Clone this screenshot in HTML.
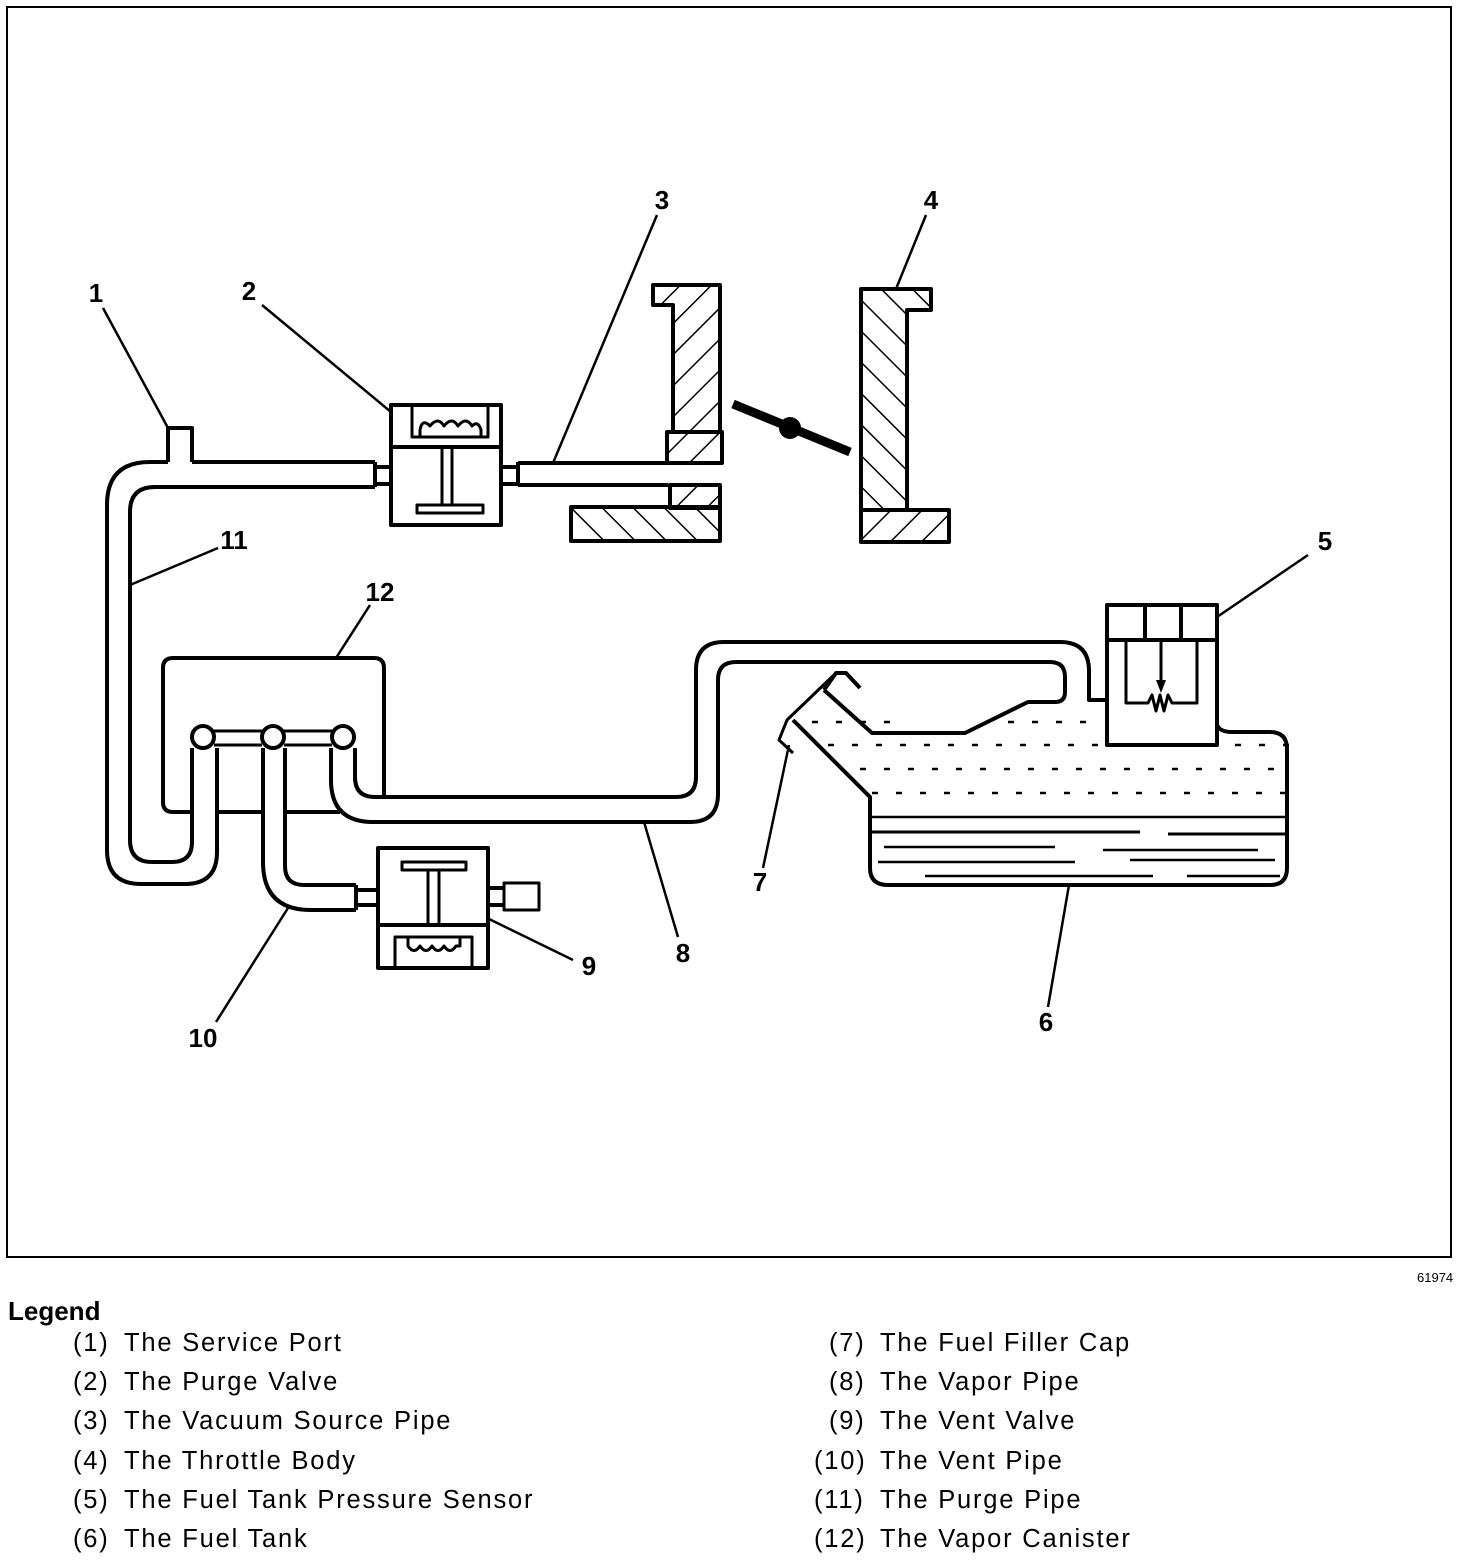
<!DOCTYPE html>
<html><head><meta charset="utf-8"><style>
html,body{margin:0;padding:0;background:#fff;}
svg{display:block;}
text{font-family:"Liberation Sans",Arial,sans-serif;fill:#000;}
.n{font-size:26px;font-weight:bold;}
.lg{font-size:25.5px;letter-spacing:1.8px;}
</style></head><body>
<svg width="1472" height="1560" viewBox="0 0 1472 1560" xmlns="http://www.w3.org/2000/svg">
<defs>
<pattern id="hf" patternUnits="userSpaceOnUse" width="22" height="22" patternTransform="rotate(45)">
<line x1="0" y1="0" x2="0" y2="22" stroke="#000" stroke-width="3"/></pattern>
<pattern id="hb" patternUnits="userSpaceOnUse" width="22" height="22" patternTransform="rotate(-45)">
<line x1="0" y1="0" x2="0" y2="22" stroke="#000" stroke-width="3"/></pattern>
</defs>
<rect x="7" y="7" width="1444" height="1250" fill="none" stroke="#000" stroke-width="2"/>

<g fill="none" stroke="#000" stroke-width="4" stroke-linejoin="round">
<path d="M168,462 L150,462 Q107,462 107,505 L107,850 Q107,884 141,884 L185,884 Q217,884 217,852 L217,748"/>
<path d="M192,462 L375,462 M168,462 L168,428 L192,428 L192,462"/>
<path d="M375,487 L155,487 Q130,487 130,512 L130,840 Q130,862 152,862 L172,862 Q192,862 192,842 L192,748"/>
<path d="M375,462 L375,487 M375,467 L391,467 M375,484 L391,484"/>
<rect x="391" y="405" width="110" height="120"/>
<line x1="391" y1="447" x2="501" y2="447"/>
<path d="M412,407 L412,437 L488,437 L488,407" stroke-width="3"/>
<path d="M420,437 L420,430 Q422,418 430,426 Q438,416 444,426 Q452,416 458,426 Q466,416 472,426 Q478,420 481,430 L481,437" stroke-width="3"/>
<rect x="442" y="447" width="10" height="58" stroke-width="3"/>
<rect x="417" y="505" width="66" height="8" stroke-width="3"/>
<path d="M501,467 L518,467 M501,484 L518,484 M518,462 L518,486"/>
<path d="M518,463 L668,463 M518,485 L668,485"/>
<path d="M192,812 L173,812 Q163,812 163,802 L163,668 Q163,658 173,658 L374,658 Q384,658 384,668 L384,797"/>
<path d="M217,812 L263,812 M285,812 L340,812"/>
<circle cx="203" cy="737" r="11"/><circle cx="273" cy="737" r="11"/><circle cx="343" cy="737" r="11"/>
<path d="M214,731 L262,731 M284,731 L332,731 M214,745 L262,745 M284,745 L332,745" stroke-width="3"/>
<path d="M331,748 L331,780 Q331,822 373,822 L690,822 Q718,822 718,794 L718,680 Q718,662 736,662 L1050,662 Q1065,662 1065,677 L1065,692 Q1065,702 1055,702 L1028,702 L965,733 L872,733 L824,690"/>
<path d="M355,748 L355,777 Q355,797 375,797 L676,797 Q696,797 696,777 L696,670 Q696,642 724,642 L1060,642 Q1089,642 1089,671 L1089,700 L1107,700"/>
<path d="M263,748 L263,862 Q263,910 311,910 L356,910"/>
<path d="M285,748 L285,866 Q285,885 304,885 L356,885"/>
<path d="M356,885 L356,910 M356,890 L378,890 M356,905 L378,905"/>
<rect x="378" y="848" width="110" height="120"/>
<line x1="378" y1="925" x2="488" y2="925"/>
<rect x="402" y="862" width="64" height="8" stroke-width="3"/>
<rect x="428" y="870" width="11" height="55" stroke-width="3"/>
<path d="M395,967 L395,937 L472,937 L472,967" stroke-width="3"/>
<path d="M408,937 L408,946 Q414,955 420,946 Q426,955 432,946 Q438,955 444,946 Q450,955 456,946 L460,946 L460,937" stroke-width="3"/>
<path d="M488,888 L504,888 M488,905 L504,905"/>
<rect x="504" y="883" width="35" height="27" stroke-width="3"/>
<path d="M1217,725 Q1220,732 1232,732 L1270,732 Q1287,732 1287,749 L1287,868 Q1287,885 1270,885 L888,885 Q870,885 870,868 L870,797 L793,720"/>
<path d="M824,690 L836,673 L846,673 L860,688"/>
<path d="M836,673 L787,720 L779,740 L793,753" stroke-width="3"/>
<line x1="870" y1="817" x2="1287" y2="817" stroke-width="2.5"/>
<path d="M870,832 L1140,832 M1168,834 L1287,834" stroke-width="3"/>
<path d="M884,847 L1055,847 M1103,850 L1258,850 M878,862 L1075,862 M1130,860 L1275,860 M925,876 L1153,876 M1187,876 L1280,876" stroke-width="2.5"/>
<rect x="1107" y="605" width="110" height="140"/>
<line x1="1107" y1="640" x2="1217" y2="640"/>
<line x1="1145" y1="605" x2="1145" y2="640"/><line x1="1181" y1="605" x2="1181" y2="640"/>
<path d="M1126,640 L1126,703 L1148,703 L1152,695 L1156,711 L1160,695 L1164,711 L1168,695 L1172,703 L1197,703 L1197,640" stroke-width="3"/>
<line x1="1161" y1="640" x2="1161" y2="682" stroke-width="3"/>
</g>
<path d="M1156,680 L1166,680 L1161,693 Z" fill="#000"/>
<g stroke="#000" stroke-width="2.5" stroke-dasharray="6 18">
<line x1="812" y1="722" x2="900" y2="722"/>
<line x1="1008" y1="722" x2="1100" y2="722"/>
<line x1="828" y1="745" x2="1100" y2="745"/>
<line x1="1235" y1="745" x2="1290" y2="745"/>
<line x1="860" y1="769" x2="1290" y2="769"/>
<line x1="872" y1="793" x2="1290" y2="793"/>
</g>
<g stroke="#000" stroke-width="4" stroke-linejoin="round">
<path d="M653,285 L720,285 L720,432 L673,432 L673,305 L653,305 Z" fill="url(#hf)"/>
<rect x="667" y="432" width="55" height="31" fill="url(#hf)"/>
<rect x="670" y="485" width="50" height="23" fill="url(#hf)"/>
<rect x="571" y="507" width="149" height="34" fill="url(#hb)"/>
<path d="M861,289 L931,289 L931,310 L907,310 L907,510 L861,510 Z" fill="url(#hb)"/>
<rect x="861" y="510" width="88" height="32" fill="url(#hf)"/>
</g>
<line x1="733" y1="404" x2="850" y2="452" stroke="#000" stroke-width="9"/>
<circle cx="790" cy="428" r="11" fill="#000"/>
<g stroke="#000" stroke-width="2.5">
<line x1="103" y1="308" x2="168" y2="428"/>
<line x1="262" y1="305" x2="391" y2="412"/>
<line x1="657" y1="215" x2="553" y2="463"/>
<line x1="926" y1="215" x2="896" y2="289"/>
<line x1="1308" y1="555" x2="1217" y2="617"/>
<line x1="1069" y1="885" x2="1048" y2="1007"/>
<line x1="789" y1="745" x2="763" y2="868"/>
<line x1="644" y1="822" x2="678" y2="937"/>
<line x1="487" y1="918" x2="573" y2="960"/>
<line x1="216" y1="1022" x2="288" y2="908"/>
<line x1="218" y1="548" x2="130" y2="585"/>
<line x1="370" y1="605" x2="336" y2="658"/>
</g>
<g class="n" text-anchor="middle">
<text x="96" y="302">1</text><text x="249" y="300">2</text><text x="662" y="209">3</text>
<text x="931" y="209">4</text><text x="1325" y="550">5</text><text x="1046" y="1031">6</text>
<text x="760" y="891">7</text><text x="683" y="962">8</text><text x="589" y="975">9</text>
<text x="203" y="1047">10</text><text x="234" y="549">11</text><text x="380" y="601">12</text>
</g>
<text x="1417" y="1282" style="font-size:13px;">61974</text>
<text x="8" y="1320" style="font-size:26px;font-weight:bold;">Legend</text>
<g class="lg">
<text x="73" y="1351">(1)</text><text x="124" y="1351">The Service Port</text>
<text x="73" y="1390">(2)</text><text x="124" y="1390">The Purge Valve</text>
<text x="73" y="1429">(3)</text><text x="124" y="1429">The Vacuum Source Pipe</text>
<text x="73" y="1469">(4)</text><text x="124" y="1469">The Throttle Body</text>
<text x="73" y="1508">(5)</text><text x="124" y="1508">The Fuel Tank Pressure Sensor</text>
<text x="73" y="1547">(6)</text><text x="124" y="1547">The Fuel Tank</text>
<text x="829" y="1351">(7)</text><text x="880" y="1351">The Fuel Filler Cap</text>
<text x="829" y="1390">(8)</text><text x="880" y="1390">The Vapor Pipe</text>
<text x="829" y="1429">(9)</text><text x="880" y="1429">The Vent Valve</text>
<text x="814" y="1469">(10)</text><text x="880" y="1469">The Vent Pipe</text>
<text x="814" y="1508">(11)</text><text x="880" y="1508">The Purge Pipe</text>
<text x="814" y="1547">(12)</text><text x="880" y="1547">The Vapor Canister</text>
</g>
</svg>
</body></html>
